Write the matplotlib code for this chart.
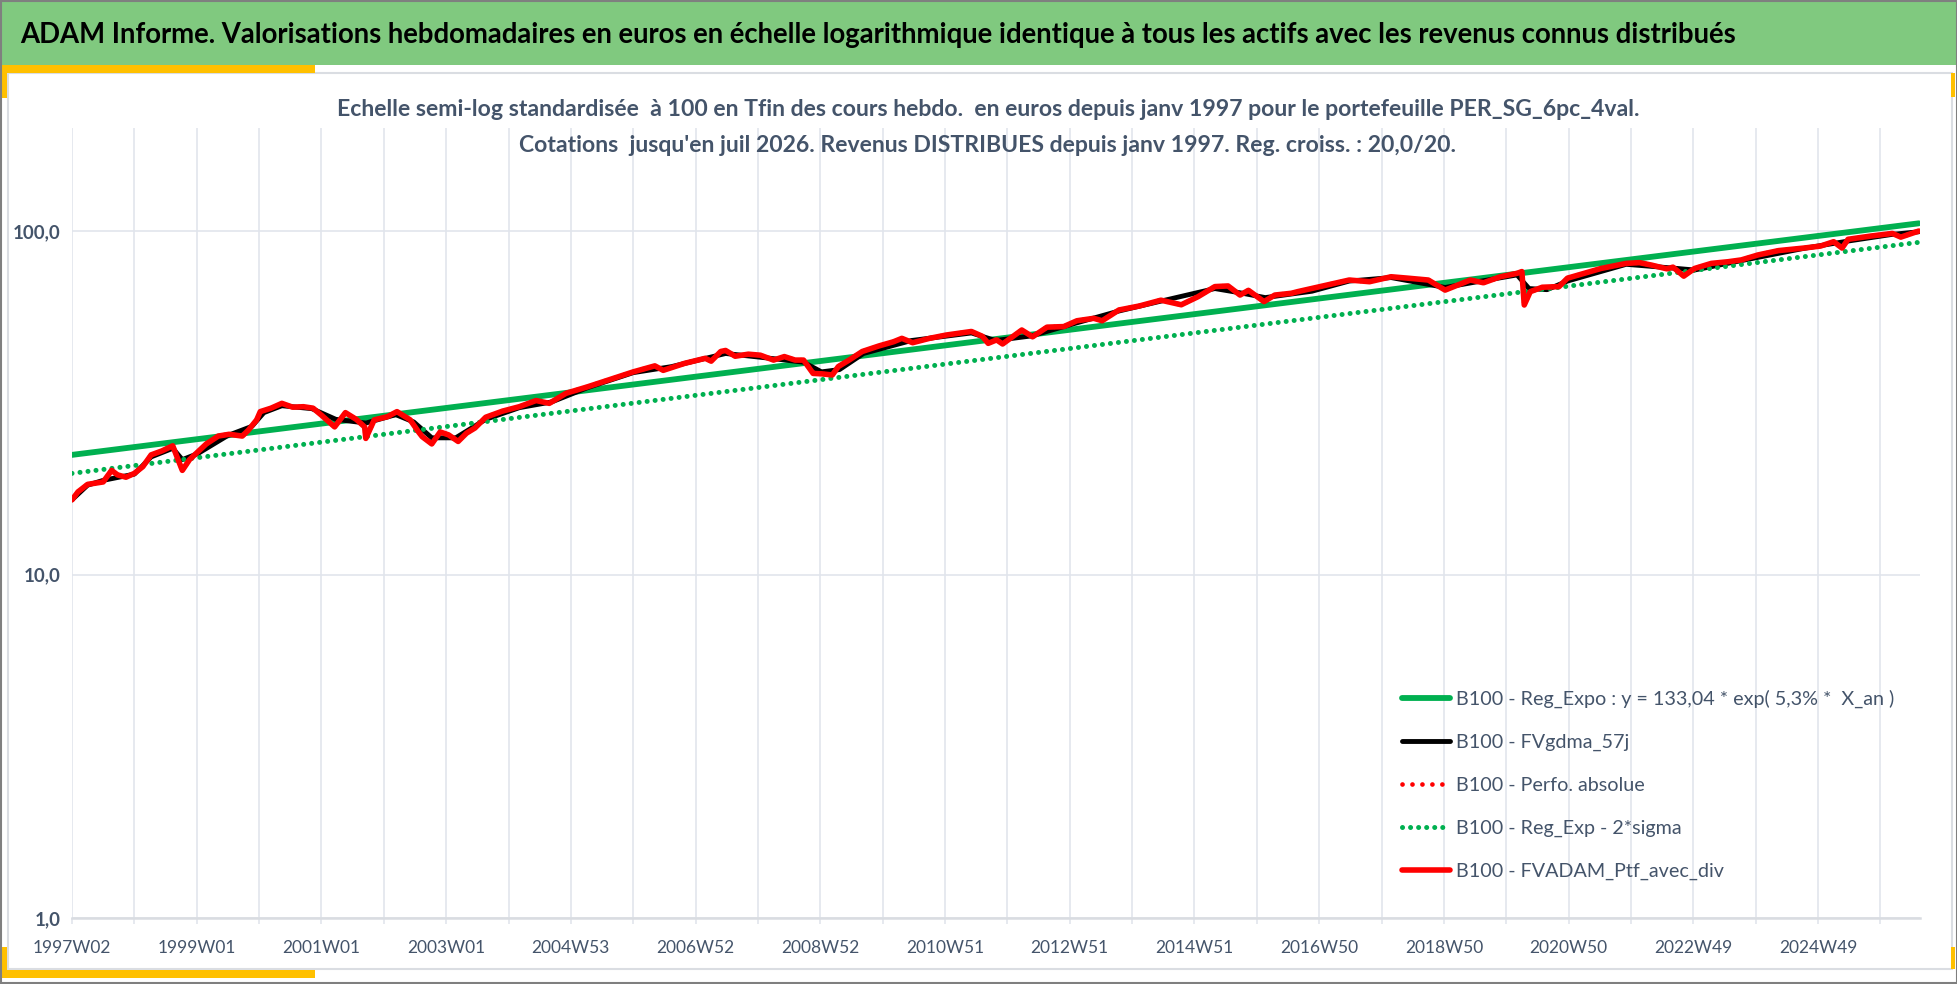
import matplotlib
matplotlib.use('Agg')
import matplotlib.pyplot as plt
from matplotlib.patches import Rectangle
from matplotlib.ticker import FixedLocator, NullLocator

plt.rcParams['font.family'] = ['Lato', 'DejaVu Sans']

# ---- data ----
# x = week index since 1997W02, y = base 100 at Tfin
RED_WEEKS = [0, 5, 13, 26, 33, 38, 45, 52, 59, 66, 75, 84, 88, 92, 98, 112, 122, 131, 142, 147,
             154, 157, 166, 175, 184, 193, 201, 208, 219, 228, 237, 244, 245, 252, 263, 271, 282,
             289, 292, 300, 307, 314, 322, 329, 336, 345, 359, 373, 387, 398, 412, 430, 447, 468,
             486, 493, 511, 528, 533, 541,
             545, 553, 564, 574, 585, 594, 603, 610, 618, 625, 634, 639, 648, 659, 673, 685, 692,
             701, 715, 729, 743, 750, 759, 764, 771, 776, 792, 801, 813, 827, 838, 852, 859, 873,
             890, 908, 925, 939, 953, 964, 974, 981, 994, 1003, 1017,
             1022, 1043, 1065, 1082, 1100, 1114, 1131, 1145, 1156, 1166, 1177, 1191, 1205, 1209,
             1211, 1216, 1226, 1240, 1247, 1261, 1275, 1296, 1307, 1317, 1330, 1335, 1344, 1353,
             1367, 1381, 1392, 1406, 1423, 1444, 1458, 1469, 1476, 1481, 1500, 1518, 1525, 1540]
RED_VALUES = [16.5, 17.4, 18.3, 18.6, 20.1, 19.5, 19.2, 19.7, 20.6, 22.3, 22.9, 23.7, 21.8, 20.1,
              21.6, 24.0, 25.3, 25.6, 25.3, 26.3, 28.2, 29.8, 30.5, 31.5, 30.7, 30.8, 30.5, 29.1,
              26.9, 29.6, 28.3, 26.9, 24.9, 28.2, 28.8, 29.8, 28.2, 26.0, 25.2, 24.0, 26.0, 25.5,
              24.4, 25.8, 26.7, 28.7, 29.9, 30.8, 32.1, 31.5, 33.7, 35.2, 36.8, 38.9, 40.5, 39.3,
              41.2, 42.6, 41.8, 44.6,
              44.9, 43.2, 43.8, 43.5, 42.1, 43.1, 42.1, 42.1, 38.5, 38.4, 38.1, 40.3, 42.1, 44.6,
              46.3, 47.6, 48.7, 47.3, 48.7, 49.8, 50.6, 51.0, 49.4, 47.1, 48.2, 46.9, 51.5, 49.2,
              52.5, 52.7, 54.8, 55.7, 54.8, 58.9, 60.5, 62.9, 61.0, 64.4, 68.9, 69.2, 65.1, 67.2,
              62.3, 65.1, 65.9,
              66.6, 69.2, 72.0, 71.2, 73.6, 72.9, 72.0, 67.3, 69.7, 72.0, 70.7, 73.6, 75.3, 76.2,
              60.9, 66.6, 68.6, 68.9, 72.9, 75.3, 77.8, 80.5, 80.9, 79.6, 77.6, 78.5, 73.9, 77.8,
              80.5, 81.4, 82.4, 85.2, 87.7, 89.2, 90.4, 93.1, 89.2, 94.6, 96.7, 98.4, 96.0, 100.0]

BLACK_WEEKS = [0, 13, 26, 52, 66, 84, 92, 105, 130, 150, 160, 175, 200, 220, 245, 270, 285, 300,
               320, 345, 373, 400, 430, 468, 500, 545, 585, 610, 625, 640, 660, 700, 750, 770, 800,
               840, 873, 908, 953, 975, 995, 1034, 1065, 1100, 1145, 1170, 1205, 1215, 1230, 1247,
               1296, 1335, 1353, 1392, 1444, 1481, 1518, 1540]
BLACK_VALUES = [16.5, 18.2, 18.8, 19.6, 22.0, 23.3, 21.6, 22.5, 25.4, 27.0, 29.6, 31.0, 30.4, 28.3,
                27.6, 29.2, 27.8, 25.0, 25.0, 28.3, 30.6, 31.8, 35.0, 38.7, 40.3, 44.0, 42.5, 41.5,
                38.9, 39.5, 44.0, 48.0, 50.5, 48.0, 49.5, 54.3, 58.5, 62.5, 68.0, 66.0, 64.0, 66.8,
                71.5, 73.2, 68.5, 71.0, 74.5, 68.0, 67.5, 71.5, 80.0, 78.0, 77.0, 82.0, 89.0, 93.5,
                97.8, 99.5]

REG_WEEKS = [0, 1540]
REG_VALUES = [22.3, 105.3]          # y = 133,04 * exp(5,3% * X_an)
SIGMA_VALUES = [19.7, 92.7]         # Reg_Exp - 2*sigma

TICK_LABELS = ['1997W02', '1999W01', '2001W01', '2003W01', '2004W53', '2006W52', '2008W52',
               '2010W51', '2012W51', '2014W51', '2016W50', '2018W50', '2020W50', '2022W49',
               '2024W49']
Y_TICKS = [1, 10, 100]
Y_LABELS = ['1,0', '10,0', '100,0']

SERIES_NAMES = ['B100 - Reg_Expo : y = 133,04 * exp( 5,3% *  X_an )',
                'B100 - FVgdma_57j',
                'B100 - Perfo. absolue',
                'B100 - Reg_Exp - 2*sigma',
                'B100 - FVADAM_Ptf_avec_div']

TITLE = ("ADAM Informe. Valorisations hebdomadaires en euros en échelle logarithmique "
         "identique à tous les actifs avec les revenus connus distribués")
SUB1 = ("Echelle semi-log standardisée  à 100 en Tfin des cours hebdo.  en euros depuis janv 1997 "
        "pour le portefeuille PER_SG_6pc_4val.")
SUB2 = "Cotations  jusqu'en juil 2026. Revenus DISTRIBUES depuis janv 1997. Reg. croiss. : 20,0/20."

# ---- colours ----
GREEN = '#00B050'
RED = '#FF0000'
SLATE = '#44546A'
GRID = '#E1E5EC'
HEADER = '#80C97F'
YELLOW = '#FFC000'

W, H = 1958, 984
fig = plt.figure(figsize=(W / 100, H / 100), dpi=100)
fig.patch.set_facecolor('white')


def box(x0, y0, x1, y1, color, z=0, fill=True, lw=0):
    # pixel coords, origin top-left
    r = Rectangle((x0 / W, 1 - y1 / H), (x1 - x0) / W, (y1 - y0) / H,
                  transform=fig.transFigure, zorder=z,
                  facecolor=color if fill else 'none',
                  edgecolor='none' if fill else color, linewidth=lw)
    fig.patches.append(r)


# frame decorations
box(8, 73, 1952, 969, '#DADDE2', z=-2, fill=False, lw=1.5)
box(2, 2, 1956, 65, HEADER, z=-1)
box(0, 65, 315, 73, YELLOW, z=-1)
box(0, 65, 7, 98, YELLOW, z=-1)
box(0, 970, 315, 978, YELLOW, z=-1)
box(0, 947, 7, 978, YELLOW, z=-1)
box(1951, 73, 1955, 97, YELLOW, z=-1)
box(1951, 947, 1955, 969, YELLOW, z=-1)
box(1, 1, W - 1, H - 1, '#7F7F7F', z=5, fill=False, lw=1.5)

fig.text(20 / W, 1 - 35 / H, TITLE, fontsize=19.8, fontweight='bold', color='black',
         ha='left', va='center')
fig.text(988 / W, 1 - 110 / H, SUB1, fontsize=16.6, fontweight='bold', color=SLATE,
         ha='center', va='center')
fig.text(988 / W, 1 - 146 / H, SUB2, fontsize=16.6, fontweight='bold', color=SLATE,
         ha='center', va='center')

# ---- plot ----
ax = fig.add_axes([72 / W, 66 / H, (1920 - 72) / W, (918 - 128) / H])
ax.set_facecolor('none')
ax.set_yscale('log')
ax.set_ylim(1, 199.5)
ax.set_xlim(0, 1541)

ax.plot(REG_WEEKS, REG_VALUES, color=GREEN, lw=4.2, solid_capstyle='butt',
        label=SERIES_NAMES[0], zorder=3)
ax.plot(BLACK_WEEKS, BLACK_VALUES, color='black', lw=3.5, label=SERIES_NAMES[1], zorder=4)
ax.plot(RED_WEEKS, RED_VALUES, color=RED, lw=3.4, linestyle=(0, (0.01, 2.1)),
        dash_capstyle='round', label=SERIES_NAMES[2], zorder=5)
ax.plot(REG_WEEKS, SIGMA_VALUES, color=GREEN, lw=3.6, linestyle=(0, (0.01, 1.6)),
        dash_capstyle='round', label=SERIES_NAMES[3], zorder=6)
ax.plot(RED_WEEKS, RED_VALUES, color=RED, lw=4, label=SERIES_NAMES[4], zorder=7)

# axes
grid_x = [52 * i for i in range(30)]
ax.xaxis.set_major_locator(FixedLocator(grid_x))
ax.set_xticklabels([TICK_LABELS[i // 2] if i % 2 == 0 else '' for i in range(30)])
ax.set_yticks(Y_TICKS)
ax.set_yticklabels(Y_LABELS)
ax.yaxis.set_minor_locator(NullLocator())
ax.xaxis.set_minor_locator(NullLocator())
ax.tick_params(axis='x', length=4, color=GRID, width=1.2, labelsize=12.5, labelcolor=SLATE, pad=12)
ax.tick_params(axis='y', length=0, labelsize=13.5, labelcolor=SLATE, pad=8)
for t in ax.get_yticklabels():
    t.set_fontweight('bold')
ax.grid(True, color=GRID, lw=1.2)
ax.set_axisbelow(True)
for s in ['top', 'right', 'left']:
    ax.spines[s].set_visible(False)
ax.spines['bottom'].set_color('#D9DCE1')
ax.spines['bottom'].set_linewidth(1.8)

handles, labels = ax.get_legend_handles_labels()
for h in handles:
    h.set_solid_capstyle('round')
leg = fig.legend(handles, labels, loc='upper left', bbox_to_anchor=(1402 / W, 1 - 690 / H),
                 bbox_transform=fig.transFigure, frameon=False, fontsize=14.2,
                 handlelength=2.45, handletextpad=0.3, labelspacing=1.3,
                 borderpad=0, borderaxespad=0)
for t in leg.get_texts():
    t.set_color(SLATE)

fig.savefig('out.png', dpi=100)
